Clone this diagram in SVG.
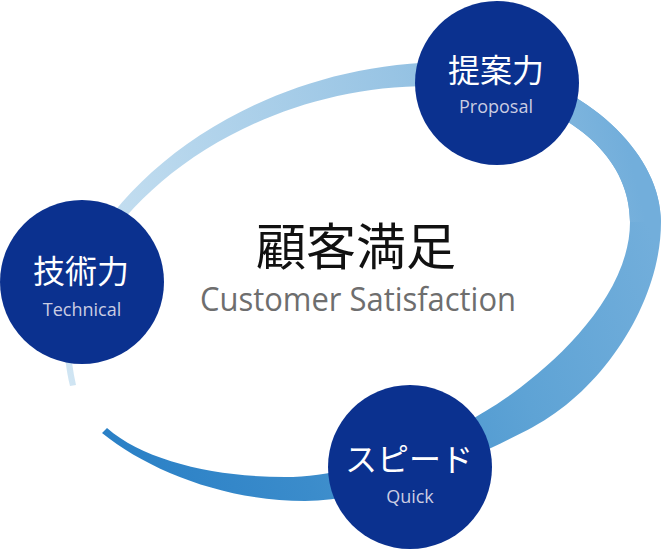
<svg xmlns="http://www.w3.org/2000/svg" width="662" height="550" viewBox="0 0 662 550">
<style>
.node{fill:#0b318f}
.jp{font-family:"Noto Sans CJK JP",sans-serif;fill:#ffffff;text-anchor:middle}
.en{font-family:"Open Sans","Noto Sans",sans-serif;fill:#cacce2;text-anchor:middle;font-size:18px}
</style>
<defs>
<linearGradient id="gA" gradientUnits="userSpaceOnUse" x1="70" y1="385" x2="650" y2="235">
<stop offset="0" stop-color="#d0e5f3"/>
<stop offset="0.3" stop-color="#b4d5ec"/>
<stop offset="0.65" stop-color="#98c4e4"/>
<stop offset="0.88" stop-color="#82b7de"/>
<stop offset="1" stop-color="#72aedb"/>
</linearGradient>
<linearGradient id="gB" gradientUnits="userSpaceOnUse" x1="650" y1="230" x2="105" y2="435">
<stop offset="0" stop-color="#72aedb"/>
<stop offset="0.3" stop-color="#5ea3d5"/>
<stop offset="0.7" stop-color="#3b8ccb"/>
<stop offset="1" stop-color="#2a80c6"/>
</linearGradient>
</defs>
<rect width="662" height="550" fill="#ffffff"/>
<g id="connectors">
<path fill="url(#gB)" d="M 450 62 C 560 62, 661 142, 661 222 C 661 302, 603.4 389.4, 533 427 C 489 450.5, 385 501, 305 501 C 225 501, 148.8 470.8, 102 433 L 107 428 C 144.5 461, 215 477, 285 477 C 375 477, 472.5 422.3, 513 393 C 561.6 357.9, 630 292, 630 222 C 630 142, 540 86, 430 86 Z"/>
<path fill="url(#gA)" d="M 70 386 C 66 370, 64 352, 64 335 C 64 214, 231.3 62, 450 62 C 560 62, 661 142, 661 222 L 630 222 C 630 142, 540 86, 430 86 C 230 86, 71 225, 71 345 C 71 358, 73 372, 76 385 Z"/>
</g>
<g id="center">
<text x="356" y="265" font-family="Noto Sans CJK JP,sans-serif" font-size="50" fill="#111111" text-anchor="middle">顧客満足</text>
<text x="358" y="311" font-family="Open Sans,Noto Sans,sans-serif" font-size="33" fill="#6e6e6e" text-anchor="middle" textLength="316" lengthAdjust="spacingAndGlyphs">Customer Satisfaction</text>
</g>
<g id="node-proposal">
<circle class="node" cx="497" cy="83" r="82"/>
<text class="jp" x="496" y="82" font-size="32">提案力</text>
<text class="en" x="496" y="113">Proposal</text>
</g>
<g id="node-technical">
<circle class="node" cx="82" cy="282" r="82"/>
<text class="jp" x="81" y="283" font-size="32">技術力</text>
<text class="en" x="82" y="316">Technical</text>
</g>
<g id="node-quick">
<circle class="node" cx="410" cy="467" r="82"/>
<text class="jp" x="409" y="471" font-size="32">スピード</text>
<text class="en" x="410" y="503">Quick</text>
</g>
</svg>
